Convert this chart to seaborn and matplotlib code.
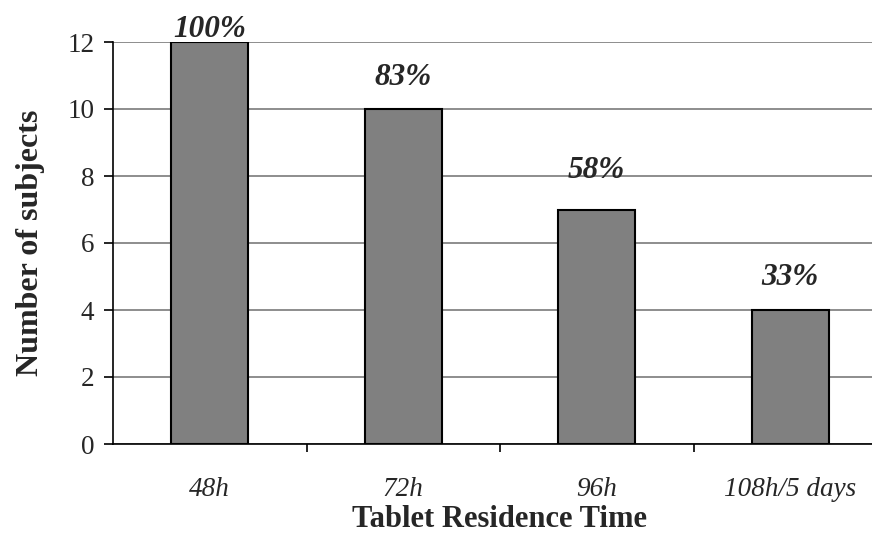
import matplotlib
matplotlib.use("Agg")
import matplotlib.pyplot as plt
import seaborn as sns
import pandas as pd

categories = ["48h", "72h", "96h", "108h/5 days"]
subjects = [12, 10, 7, 4]
total_subjects = 12
label_offsets_pt = [3.5, 17, 22.5, 18]

df = pd.DataFrame({"time": categories, "n": subjects})

sns.set_theme(style="white")
plt.rcParams["font.family"] = ["Liberation Serif", "DejaVu Serif"]

fig = plt.figure(figsize=(8.72, 5.39), dpi=100)
ax = fig.add_axes([113 / 872, 1 - 444 / 539, 774 / 872, 402 / 539])

sns.barplot(data=df, x="time", y="n", ax=ax, color="#808080", saturation=1,
            width=0.40, edgecolor="black", linewidth=1.5, zorder=3)

ax.set_ylim(0, 12)
ax.set_xlim(-0.5, 3.5)
ax.set_yticks(range(0, 13, 2))
ax.yaxis.grid(True, color="#7a7a7a", linewidth=1.2, zorder=0)
ax.set_axisbelow(True)

for s in ["top", "right"]:
    ax.spines[s].set_visible(False)
for s in ["left", "bottom"]:
    ax.spines[s].set_color("black")
    ax.spines[s].set_linewidth(1.2)

# y ticks outside on the left; x ticks at the category boundaries
ax.tick_params(axis="y", which="major", direction="out", length=6.5, width=1.2,
               color="black", left=True, labelsize=19.5, pad=7)
ax.set_xticks([0.5, 1.5, 2.5], minor=True)
ax.set_xticks(range(len(categories)))
ax.set_xticklabels(categories, fontsize=19.5, fontstyle="italic")
ax.tick_params(axis="x", which="major", length=0, pad=24)
ax.tick_params(axis="x", which="minor", direction="out", length=6, width=1.2,
               color="black", bottom=True)

ax.set_xlabel("Tablet Residence Time", fontsize=22, fontweight="bold", labelpad=2)
ax.set_ylabel("Number of subjects", fontsize=23, fontweight="bold", labelpad=16)

for i, v in enumerate(subjects):
    pct = round(v / total_subjects * 100)
    ax.annotate(f"{pct}%", xy=(i, v), xytext=(0, label_offsets_pt[i]),
                textcoords="offset points", ha="center", va="baseline",
                fontsize=22.5, fontweight="bold", fontstyle="italic",
                annotation_clip=False)

fig.savefig("out.png", dpi=100)
